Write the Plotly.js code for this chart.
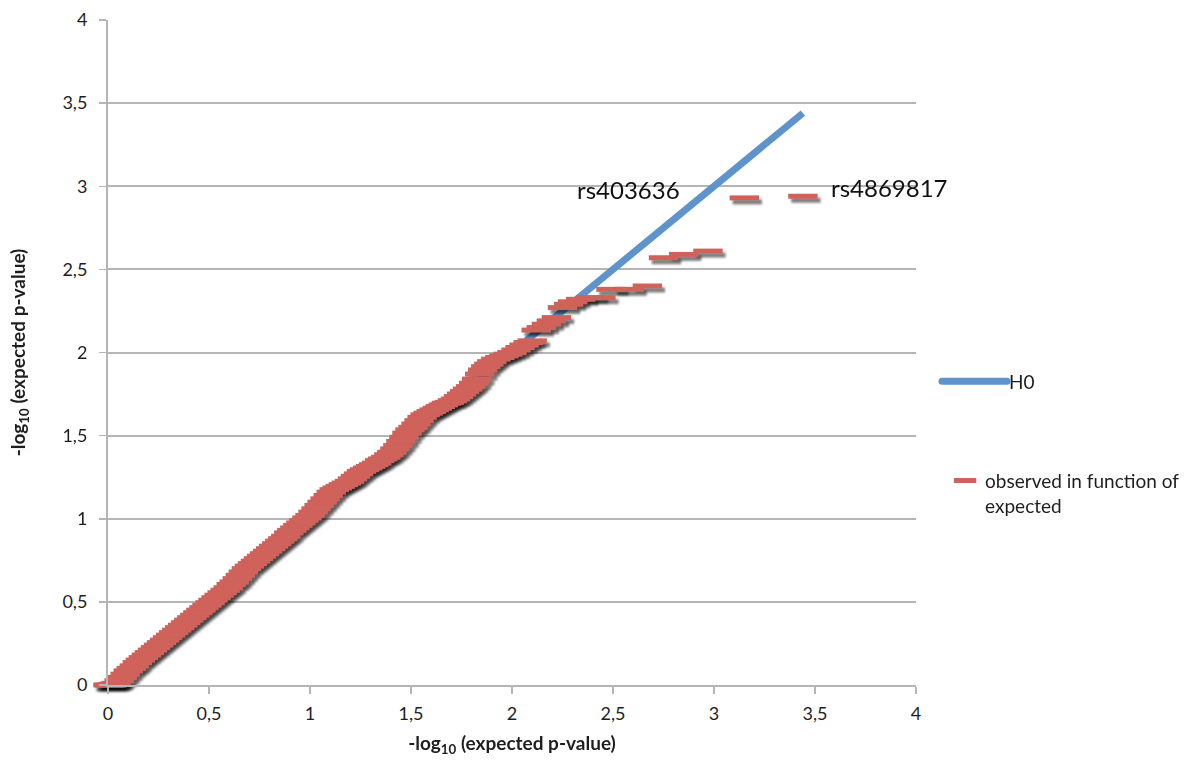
<!DOCTYPE html>
<html>
<head>
<meta charset="utf-8">
<script src="https://cdn.plot.ly/plotly-3.0.1.min.js"></script>
<style>
  html, body { margin: 0; padding: 0; background: #ffffff; }
  #chart { width: 1197px; height: 760px; }
</style>
</head>
<body>
<div id="chart"></div>
<script>
// Null-hypothesis reference line (observed = expected)
const h0Expected = [0, 3.44];
const h0Observed = [0, 3.44];

// Observed -log10 p-values against their expected quantiles
const expected = [
  0.000, 0.010, 0.020, 0.030, 0.040, 0.055, 0.070, 0.085, 0.100, 0.115,
  0.130, 0.145, 0.160, 0.175, 0.190, 0.205, 0.220, 0.235, 0.250, 0.265,
  0.280, 0.295, 0.310, 0.325, 0.340, 0.355, 0.370, 0.385, 0.400, 0.415,
  0.430, 0.445, 0.460, 0.475, 0.490, 0.505, 0.520, 0.535, 0.550, 0.565,
  0.580, 0.595, 0.610, 0.625, 0.640, 0.655, 0.670, 0.685, 0.700, 0.715,
  0.730, 0.745, 0.760, 0.775, 0.790, 0.805, 0.820, 0.835, 0.850, 0.865,
  0.880, 0.895, 0.910, 0.925, 0.940, 0.955, 0.970, 0.985, 1.000, 1.015,
  1.030, 1.045, 1.060, 1.075, 1.090, 1.105, 1.120, 1.135, 1.150, 1.165,
  1.180, 1.195, 1.210, 1.225, 1.240, 1.255, 1.270, 1.285, 1.300, 1.315,
  1.330, 1.345, 1.360, 1.375, 1.390, 1.405, 1.420, 1.435, 1.450, 1.465,
  1.480, 1.495, 1.510, 1.525, 1.540, 1.555, 1.570, 1.585, 1.600, 1.615,
  1.630, 1.645, 1.660, 1.675, 1.690, 1.705, 1.720, 1.735, 1.750, 1.765,
  1.780, 1.795, 1.810, 1.825, 1.840, 1.855, 1.870, 1.885, 1.900, 1.920,
  1.940, 1.960, 1.980, 2.000, 2.020, 2.040, 2.060, 2.080, 2.100, 2.120,
  2.145, 2.170, 2.195, 2.220, 2.250, 2.280, 2.300, 2.340, 2.390, 2.440,
  2.490, 2.580, 2.670, 2.750, 2.850, 2.970, 3.150, 3.440
];
const observed = [
  0.000, 0.000, 0.000, 0.005, 0.010, 0.025, 0.045, 0.065, 0.085, 0.100,
  0.115, 0.135, 0.150, 0.165, 0.180, 0.195, 0.210, 0.225, 0.240, 0.255,
  0.270, 0.285, 0.300, 0.315, 0.330, 0.345, 0.360, 0.375, 0.390, 0.405,
  0.420, 0.435, 0.450, 0.465, 0.480, 0.495, 0.510, 0.525, 0.540, 0.555,
  0.570, 0.585, 0.605, 0.620, 0.640, 0.660, 0.680, 0.700, 0.715, 0.730,
  0.745, 0.760, 0.775, 0.790, 0.805, 0.820, 0.835, 0.850, 0.865, 0.880,
  0.895, 0.915, 0.930, 0.945, 0.960, 0.975, 0.990, 1.005, 1.020, 1.040,
  1.060, 1.080, 1.100, 1.120, 1.140, 1.160, 1.175, 1.185, 1.195, 1.205,
  1.215, 1.225, 1.240, 1.255, 1.270, 1.285, 1.295, 1.305, 1.315, 1.325,
  1.335, 1.350, 1.360, 1.370, 1.385, 1.400, 1.420, 1.440, 1.465, 1.490,
  1.515, 1.535, 1.550, 1.570, 1.590, 1.610, 1.625, 1.635, 1.645, 1.655,
  1.665, 1.675, 1.685, 1.695, 1.700, 1.710, 1.720, 1.735, 1.750, 1.765,
  1.780, 1.795, 1.815, 1.840, 1.870, 1.895, 1.915, 1.930, 1.945, 1.960,
  1.970, 1.980, 1.990, 2.000, 2.015, 2.030, 2.045, 2.060, 2.070, 2.135,
  2.150, 2.170, 2.190, 2.210, 2.270, 2.290, 2.305, 2.320, 2.330, 2.330,
  2.380, 2.380, 2.400, 2.570, 2.590, 2.610, 2.930, 2.940
];

// Axis ticks
const tickValues = [0, 0.5, 1, 1.5, 2, 2.5, 3, 3.5, 4];

// Labelled SNPs
const snpNames = ['rs403636', 'rs4869817'];
const snpLabelX = [2.314, 3.568];
const snpLabelY = [2.98, 2.99];

const FONT = 'Lato, "Open Sans", "DejaVu Sans", sans-serif';
const RED = '#cf625b';
const BLUE = '#5e94cb';
const GRID = '#b5b5b5';
const INK = '#1e1e1e';

const axisTitle = '-log<sub>10</sub> (expected p-value)';
const obsName = 'observed in function of<br>expected';

const data = [
  {
    type: 'scatter', mode: 'lines', name: 'H0',
    x: h0Expected, y: h0Observed,
    line: { color: BLUE, width: 7 },
    legend: 'legend', cliponaxis: false
  },
  {
    // soft drop shadow beneath the observed dashes
    type: 'scatter', mode: 'markers', name: 'shadow',
    x: expected, y: observed, showlegend: false,
    marker: { symbol: 'line-ew', size: 21, line: { color: 'rgba(0,0,0,0.5)', width: 5 } },
    cliponaxis: false, hoverinfo: 'skip'
  },
  {
    type: 'scatter', mode: 'markers', name: obsName,
    x: expected, y: observed,
    marker: { symbol: 'line-ew', size: 21, color: RED, line: { color: RED, width: 5 } },
    legend: 'legend2', cliponaxis: false
  }
];

const annotations = snpNames.map((t, i) => ({
  x: snpLabelX[i], y: snpLabelY[i], xref: 'x', yref: 'y',
  text: t, showarrow: false, xanchor: 'left', yanchor: 'middle',
  font: { family: FONT, size: 24, color: '#111' }
}));

const legendFont = { family: FONT, size: 19, color: INK };

const layout = {
  width: 1197, height: 760,
  paper_bgcolor: '#ffffff', plot_bgcolor: '#ffffff',
  margin: { l: 108, r: 281, t: 20, b: 75, pad: 0 },
  separators: ', ',
  font: { family: FONT, size: 18, color: INK },
  xaxis: {
    range: [0, 4], tickvals: tickValues,
    showgrid: false, zeroline: false,
    showline: true, linecolor: GRID, linewidth: 2,
    ticks: 'outside', ticklen: 7, tickwidth: 1.5, tickcolor: GRID,
    ticklabelstandoff: 4,
    tickfont: { family: FONT, size: 18, color: INK },
    title: { text: axisTitle, standoff: 14, font: { family: FONT, size: 19, color: INK, weight: 'bold' } }
  },
  yaxis: {
    range: [0, 4], tickvals: tickValues,
    showgrid: true, gridcolor: GRID, gridwidth: 2, zeroline: false,
    showline: true, linecolor: GRID, linewidth: 2,
    ticks: 'outside', ticklen: 7, tickwidth: 1.5, tickcolor: GRID,
    ticklabelstandoff: 8,
    tickfont: { family: FONT, size: 18, color: INK },
    title: { text: axisTitle, standoff: 32, font: { family: FONT, size: 19, color: INK, weight: 'bold' } }
  },
  legend: {
    x: 1.0656, xanchor: 'left', y: 0.485, yanchor: 'top',
    font: legendFont, bgcolor: 'rgba(0,0,0,0)'
  },
  legend2: {
    x: 1.036, xanchor: 'left', y: 0.336, yanchor: 'top',
    font: legendFont, valign: 'top', bgcolor: 'rgba(0,0,0,0)'
  },
  showlegend: true,
  annotations: annotations
};

function parseTranslate(el) {
  const m = /translate\(\s*([-\d.e]+)[ ,]+([-\d.e]+)\s*\)/.exec(el.getAttribute('transform') || '');
  return m ? [parseFloat(m[1]), parseFloat(m[2])] : [0, 0];
}

// Legend item group whose label starts with the given text
function legendItem(gd, label) {
  const texts = gd.querySelectorAll('.legendtext');
  for (const t of texts) {
    const content = (t.textContent || '').replace(/\s+/g, ' ').trim();
    if (content.indexOf(label) === 0) {
      const item = t.closest('g.traces') || t.parentNode;
      return { text: t, item: item };
    }
  }
  return null;
}

// Long rounded key for H0, short dash for the observed series; safe to call repeatedly
function styleKeys(gd) {
  const h0 = legendItem(gd, 'H0');
  if (h0) {
    const tx = parseFloat(h0.text.getAttribute('x') || '40');
    const want = `M${tx - 67},0h65`;
    const box = h0.text.closest('g.legend, g.legend2, g[class^="legend"]');
    if (box) box.querySelectorAll('[clip-path]').forEach(e => e.removeAttribute('clip-path'));
    h0.item.querySelectorAll('.legendlines path').forEach(p => {
      if (p.getAttribute('d') !== want) p.setAttribute('d', want);
      if (p.style.strokeLinecap !== 'round') p.style.strokeLinecap = 'round';
    });
  }
  const obs = legendItem(gd, 'observed');
  if (obs) {
    const tx = parseFloat(obs.text.getAttribute('x') || '40');
    obs.item.querySelectorAll('.legendpoints path, path.scatterpts').forEach(p => {
      const [px, py] = parseTranslate(p);
      if (px !== tx - 11) p.setAttribute('transform', `translate(${tx - 11},${py})`);
      if (p.getAttribute('d') !== 'M-6.5,0h13') p.setAttribute('d', 'M-6.5,0h13');
      if (p.style.strokeWidth !== '4px') p.style.strokeWidth = '4px';
      if (p.style.stroke !== 'rgb(216, 112, 106)') p.style.stroke = 'rgb(216, 112, 106)';
    });
  }
}

const chart = document.getElementById('chart');

// re-apply the key styling whenever the legend is (re)drawn
const observer = new MutationObserver(() => { try { styleKeys(chart); } catch (e) {} });
observer.observe(chart, { childList: true, subtree: true, attributes: true, attributeFilter: ['d', 'transform', 'style'] });

Plotly.newPlot(chart, data, layout, { staticPlot: true }).then(gd => {
  const ns = 'http://www.w3.org/2000/svg';
  const svg = gd.querySelector('svg.main-svg');

  // offset and blur the shadow layer so it reads as a drop shadow
  let defs = svg.querySelector('defs');
  if (!defs) { defs = document.createElementNS(ns, 'defs'); svg.insertBefore(defs, svg.firstChild); }
  const filter = document.createElementNS(ns, 'filter');
  filter.setAttribute('id', 'dash-shadow');
  filter.setAttribute('x', '-10%'); filter.setAttribute('y', '-10%');
  filter.setAttribute('width', '120%'); filter.setAttribute('height', '120%');
  const off = document.createElementNS(ns, 'feOffset');
  off.setAttribute('in', 'SourceGraphic'); off.setAttribute('dx', '3'); off.setAttribute('dy', '3.5');
  off.setAttribute('result', 'shifted');
  const blur = document.createElementNS(ns, 'feGaussianBlur');
  blur.setAttribute('in', 'shifted'); blur.setAttribute('stdDeviation', '1.2');
  filter.appendChild(off); filter.appendChild(blur);
  defs.appendChild(filter);
  const traces = gd.querySelectorAll('.scatterlayer .trace');
  if (traces[1]) traces[1].setAttribute('filter', 'url(#dash-shadow)');

  try { styleKeys(gd); } catch (e) {}
});
</script>
</body>
</html>
